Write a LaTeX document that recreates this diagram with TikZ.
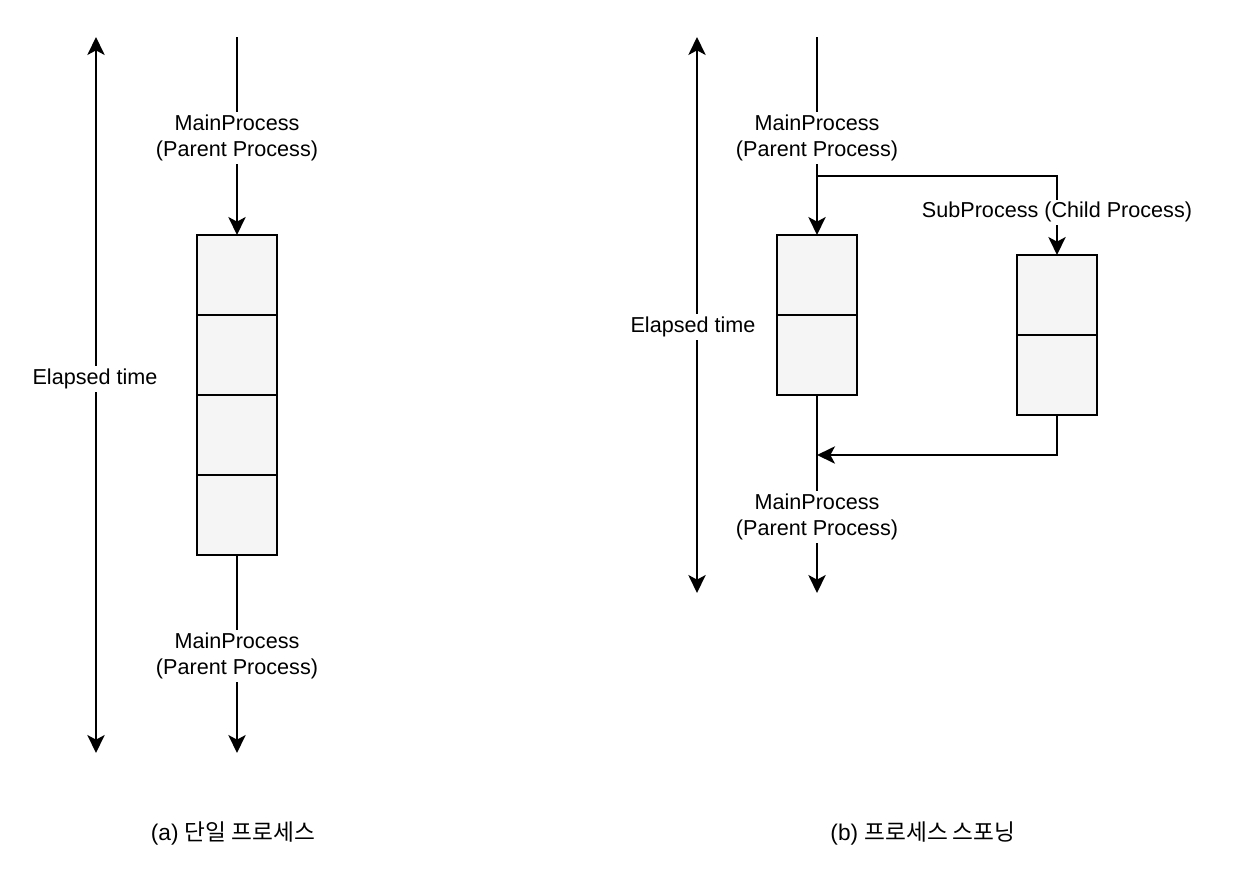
\documentclass[tikz,border=0pt]{standalone}
\usepackage{fontspec}
\setmainfont{Liberation Sans}
\newfontfamily\krfont{Noto Sans CJK KR}
\usetikzlibrary{arrows.meta,positioning}
\definecolor{cellgray}{HTML}{F5F5F5}
\tikzset{
  cell/.style={draw, fill=cellgray, line width=1.5pt, minimum width=60pt, minimum height=60pt, inner sep=0pt, outer sep=0pt},
  flow/.style={line width=1.5pt, -{Stealth[length=13.5pt,width=13pt,inset=3.5pt]}},
  span/.style={line width=1.5pt, {Stealth[length=13.5pt,width=13pt,inset=3.5pt]}-{Stealth[length=13.5pt,width=13pt,inset=3.5pt]}},
  lbl/.style={fill=white, align=center, inner sep=2pt, font=\fontsize{16.2}{19.5}\selectfont},
  captxt/.style={align=center, font=\fontsize{17}{20}\selectfont}
}
\begin{document}
\begin{tikzpicture}[x=0.75pt,y=-0.75pt]
  \useasboundingbox (0,0) rectangle (1234,878);

  % (a) single process
  \foreach \i in {1,...,4}
    \node[cell] (a\i) at (237,{195+80*\i}) {};
  \coordinate (atop) at (237,37);
  \coordinate (abot) at (237,753);
  \draw[flow] (atop) -- node[lbl,pos=0.51] (amain) {MainProcess\\(Parent Process)} (a1.north);
  \draw[flow] (a4.south) -- node[lbl,pos=0.51] (amain2) {MainProcess\\(Parent Process)} (abot);
  \coordinate (at1) at (96,37);
  \coordinate (at2) at (96,753);
  \draw[span] (at1) -- (at2);
  \node[lbl] (aela) at (95,379) {Elapsed time};
  \node[captxt] (capa) at (233,833) {(a) {\krfont 단일 프로세스}};

  % (b) process spawning
  \foreach \i in {1,2}{
    \node[cell] (b\i) at (817,{195+80*\i}) {};
    \node[cell] (c\i) at (1057,{215+80*\i}) {};
  }
  \coordinate (btop) at (817,37);
  \coordinate (bbot) at (817,593);
  \coordinate (fork) at (817,176);
  \coordinate (join) at (817,455);
  \draw[flow] (btop) -- node[lbl,pos=0.51] (bmain) {MainProcess\\(Parent Process)} (b1.north);
  \draw[flow] (fork) -| node[lbl,pos=0.73] (bsub) {SubProcess (Child Process)} (c1.north);
  \draw[flow] (b2.south) -- node[lbl,pos=0.615] (bmain2) {MainProcess\\(Parent Process)} (bbot);
  \draw[flow] (c2.south) |- (join);
  \coordinate (bt1) at (697,37);
  \coordinate (bt2) at (697,593);
  \draw[span] (bt1) -- (bt2);
  \node[lbl] (bela) at (693,327) {Elapsed time};
  \node[captxt] (capb) at (923,833) {(b) {\krfont 프로세스 스포닝}};

\end{tikzpicture}
\end{document}
